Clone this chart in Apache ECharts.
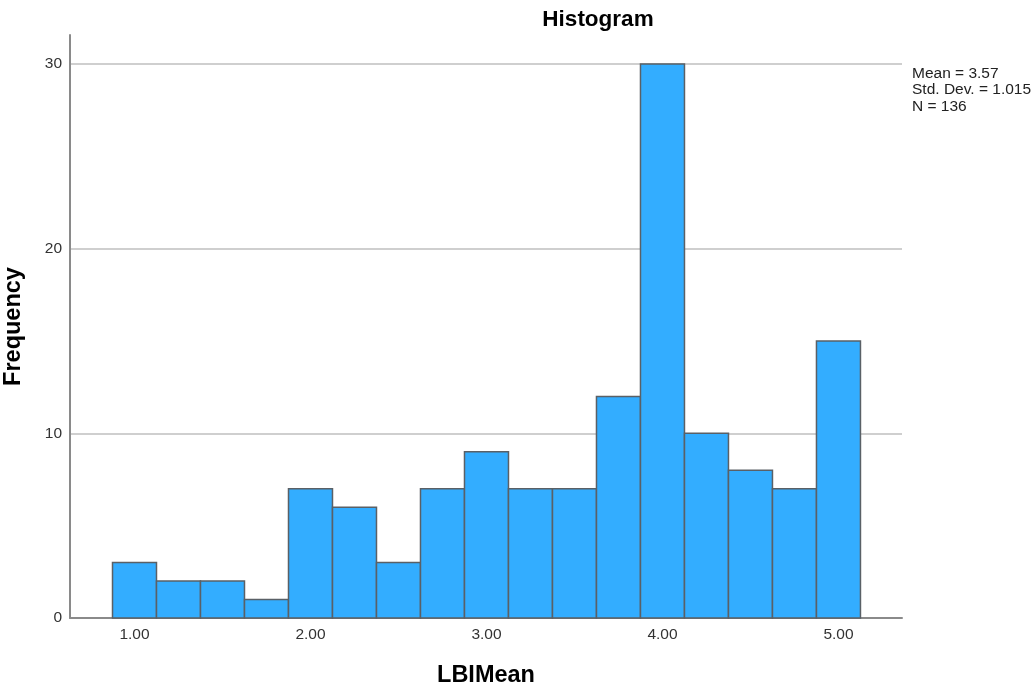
<!DOCTYPE html>
<html><head><meta charset="utf-8">
<script src="https://cdn.jsdelivr.net/npm/echarts@6/dist/echarts.min.js"></script>
<style>html,body{margin:0;padding:0;background:#fff}#c{width:1033px;height:689px}</style>
</head><body><div id="c"></div>
<script>
const binCenters = [1.00,1.25,1.50,1.75,2.00,2.25,2.50,2.75,3.00,3.25,3.50,3.75,4.00,4.25,4.50,4.75,5.00];
const frequencies = [3,2,2,1,7,6,3,7,9,7,7,12,30,10,8,7,15];
const binWidth = 0.25;
const xTickValues = [1,2,3,4,5];
const yTickValues = [0,10,20,30];
const statsLines = ['Mean = 3.57','Std. Dev. = 1.015','N = 136'];

const chart = echarts.init(document.getElementById('c'));
chart.setOption({
  animation:false,
  backgroundColor:'#fff',
  title:{text:'Histogram',left:593,top:3,textAlign:'center',
    textStyle:{fontFamily:'Liberation Sans',fontSize:22.5,fontWeight:'bold',color:'#000'}},
  graphic:[{type:'text',left:912,top:65,style:{text:statsLines.join('\n'),fontFamily:'Liberation Sans',fontSize:15.5,lineHeight:16.5,fill:'#222'}}],
  grid:{left:70,right:131,top:35,bottom:71,containLabel:false,outerBoundsMode:'none'},
  xAxis:{type:'value',min:0.6335,max:5.361,
    name:'LBIMean',nameLocation:'middle',nameGap:46,
    nameTextStyle:{fontFamily:'Liberation Sans',fontSize:23.5,fontWeight:'bold',color:'#000'},
    axisLine:{show:true,onZero:false,lineStyle:{color:'#8a8a8a',width:2}},
    axisTick:{show:false,customValues:xTickValues},splitLine:{show:false},
    axisLabel:{customValues:xTickValues,formatter:v=>v.toFixed(2),margin:9,
      fontFamily:'Liberation Sans',fontSize:15.5,color:'#333'}},
  yAxis:{type:'value',min:0,max:31.57,
    name:'Frequency',nameLocation:'middle',nameGap:44,nameRotate:90,
    nameTextStyle:{fontFamily:'Liberation Sans',fontSize:23.5,fontWeight:'bold',color:'#000'},
    axisLine:{show:true,lineStyle:{color:'#8a8a8a',width:2}},
    axisTick:{show:false,customValues:yTickValues},
    axisLabel:{customValues:yTickValues,margin:8,fontFamily:'Liberation Sans',fontSize:15.5,color:'#333'},
    splitLine:{show:true,lineStyle:{color:'#cfcfcf',width:2}}},
  series:[{
    type:'custom',
    data:binCenters.map((c,i)=>[c,frequencies[i]]),
    encode:{x:0,y:1},
    renderItem:function(params,api){
      const c=api.value(0), f=api.value(1);
      const p0=api.coord([c-binWidth/2,f]);
      const p1=api.coord([c+binWidth/2,0]);
      return {type:'rect',shape:{x:p0[0],y:p0[1],width:p1[0]-p0[0],height:p1[1]-p0[1]},
        style:{fill:'#33adff',stroke:'#5a6066',lineWidth:1.5}};
    }
  }]
});
</script></body></html>
